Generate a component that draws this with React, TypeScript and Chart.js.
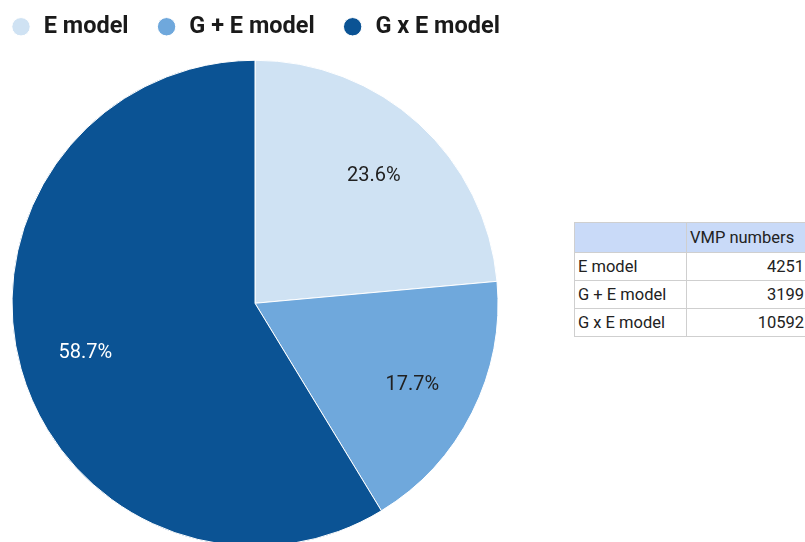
import React, { useEffect, useRef } from "react";
import { Chart, registerables } from "chart.js";

Chart.register(...registerables);

const categories = ["E model", "G + E model", "G x E model"];
const vmpNumbers = [4251, 3199, 10592];
const sliceColors = ["#cfe2f3", "#6fa8dc", "#0b5394"];
const labelColors = ["#212121", "#212121", "#ffffff"];
const tableHeader = ["", "VMP numbers"];

const pctLabelPlugin = {
  id: "pctLabels",
  afterDatasetsDraw(chart: any) {
    const ctx = chart.ctx;
    const meta = chart.getDatasetMeta(0);
    const data = chart.data.datasets[0].data as number[];
    const total = data.reduce((a, b) => a + b, 0);
    ctx.save();
    ctx.font = "20px Roboto";
    ctx.textAlign = "center";
    ctx.textBaseline = "middle";
    meta.data.forEach((arc: any, i: number) => {
      const p = arc.getProps(["x", "y", "startAngle", "endAngle", "outerRadius"], true);
      const mid = (p.startAngle + p.endAngle) / 2;
      const r = p.outerRadius * 0.725;
      ctx.fillStyle = labelColors[i];
      ctx.fillText(
        ((data[i] / total) * 100).toFixed(1) + "%",
        p.x + Math.cos(mid) * r,
        p.y + Math.sin(mid) * r + 2.5
      );
    });
    ctx.restore();
  },
};

export default function App() {
  const ref = useRef<HTMLCanvasElement | null>(null);
  useEffect(() => {
    if (!ref.current) return;
    const chart = new Chart(ref.current, {
      type: "pie",
      data: {
        labels: categories,
        datasets: [
          {
            data: vmpNumbers,
            backgroundColor: sliceColors,
            borderColor: "#ffffff",
            borderWidth: 1,
          },
        ],
      },
      options: {
        animation: false,
        responsive: false,
        devicePixelRatio: 1,
        radius: 243,
        layout: { padding: 0 },
        plugins: {
          legend: {
            position: "top",
            align: "start",
            labels: {
              usePointStyle: true,
              pointStyle: "circle",
              boxWidth: 22,
              boxHeight: 13,
              padding: 27,
              color: "#1a1a1a",
              font: { family: "Roboto", size: 23.5, weight: "bold" },
            },
          },
          tooltip: { enabled: false },
        },
      },
      plugins: [pctLabelPlugin],
    });
    return () => chart.destroy();
  }, []);

  const cell: React.CSSProperties = {
    border: "1px solid #cfcfcf",
    padding: "0 3px",
    height: 27,
    fontFamily: "Roboto",
    fontSize: 16.5,
    color: "#222",
    whiteSpace: "nowrap",
  };

  return (
    <div style={{ position: "fixed", left: 0, top: 0, width: 805, height: 542, overflow: "hidden", background: "#fff" }}>
      <canvas
        ref={ref}
        width={544}
        height={570}
        style={{ position: "absolute", left: -17, top: -12, width: 544, height: 570 }}
      />
      <table
        style={{
          position: "absolute",
          left: 574,
          top: 222,
          borderCollapse: "collapse",
          tableLayout: "fixed",
          width: 233,
        }}
      >
        <colgroup>
          <col style={{ width: 112 }} />
          <col style={{ width: 121 }} />
        </colgroup>
        <thead>
          <tr>
            {tableHeader.map((h, i) => (
              <th key={i} style={{ ...cell, height: 29, background: "#c9daf8", fontWeight: "normal", textAlign: "left" }}>
                {h}
              </th>
            ))}
          </tr>
        </thead>
        <tbody>
          {categories.map((c, i) => (
            <tr key={c}>
              <td style={{ ...cell, textAlign: "left" }}>{c}</td>
              <td style={{ ...cell, textAlign: "right" }}>{vmpNumbers[i]}</td>
            </tr>
          ))}
        </tbody>
      </table>
    </div>
  );
}
